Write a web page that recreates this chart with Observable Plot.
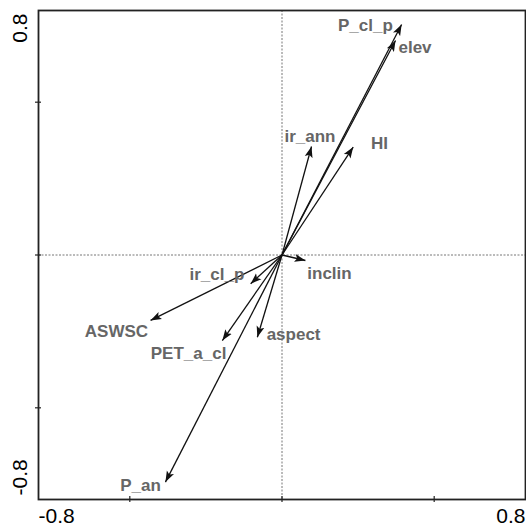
<!DOCTYPE html>
<html>
<head>
<meta charset="utf-8">
<script src="https://cdn.jsdelivr.net/npm/d3@7"></script>
<script src="https://cdn.jsdelivr.net/npm/@observablehq/plot@0.6"></script>
<style>
  html, body { margin: 0; padding: 0; background: #fff; }
  #chart svg { display: block; }
</style>
</head>
<body>
<div id="chart"></div>
<script>
// Variable names and biplot loadings (axis 1, axis 2)
const vars  = ["P_cl_p", "elev", "ir_ann", "HI", "inclin", "ir_cl_p", "ASWSC", "PET_a_cl", "aspect", "P_an"];
const axis1 = [0.393, 0.373, 0.097, 0.234, 0.077, -0.103, -0.432, -0.196, -0.081, -0.383];
const axis2 = [0.754, 0.702, 0.355, 0.353, -0.018, -0.094, -0.214, -0.280, -0.269, -0.743];
// Label anchor positions in data units
const labelX = [0.274, 0.437, 0.092, 0.320, 0.156, -0.214, -0.544, -0.307, 0.038, -0.465];
const labelY = [0.751, 0.679, 0.388, 0.365, -0.061, -0.064, -0.250, -0.322, -0.260, -0.754];
// Axis range, ticks and labels
const domain = [-0.8, 0.8];
const minorTicks = [-0.5, 0, 0.5];
const tickLabelsLow = [-0.8];
const tickLabelsHigh = [0.8];

const data = vars.map((v, i) => ({name: v, x: axis1[i], y: axis2[i], lx: labelX[i], ly: labelY[i]}));

function solidHead(color) {
  const m = d3.create("svg:marker")
    .attr("viewBox", "-11 -5 11 10")
    .attr("markerWidth", 11)
    .attr("markerHeight", 10)
    .attr("markerUnits", "userSpaceOnUse")
    .attr("refX", 0)
    .attr("refY", 0)
    .attr("orient", "auto");
  m.append("path")
    .attr("d", "M0,0L-11,-4L-8.5,0L-11,4Z")
    .attr("fill", color)
    .attr("stroke", "none");
  return m.node();
}

const fmt = d => String(d);

const chart = Plot.plot({
  width: 526,
  height: 526,
  marginLeft: 38,
  marginRight: 1,
  marginTop: 10,
  marginBottom: 27,
  x: {domain, axis: null},
  y: {domain, axis: null},
  style: {fontFamily: "Arial, 'Liberation Sans', sans-serif", background: "#fff"},
  marks: [
    Plot.ruleX([0], {stroke: "#777", strokeDasharray: "2,1.5", strokeWidth: 1}),
    Plot.ruleY([0], {stroke: "#777", strokeDasharray: "2,1.5", strokeWidth: 1}),
    Plot.link(data, {
      x1: () => 0, y1: () => 0, x2: "x", y2: "y",
      stroke: "#111", strokeWidth: 1.3,
      markerEnd: solidHead
    }),
    Plot.text(data, {
      x: "lx", y: "ly", text: "name",
      fill: "#666", fontWeight: "bold", fontSize: 17
    }),
    Plot.frame({stroke: "#222", strokeWidth: 1.8}),
    // small ticks crossing the bottom and left axes
    Plot.ruleX(minorTicks, {y1: () => domain[0], y2: () => domain[0], insetTop: -3, insetBottom: -3, stroke: "#222", strokeWidth: 1.2}),
    Plot.ruleY(minorTicks, {x1: () => domain[0], x2: () => domain[0], insetLeft: -3, insetRight: -3, stroke: "#222", strokeWidth: 1.2}),
    // bottom tick labels
    Plot.text(tickLabelsLow, {x: d => d, frameAnchor: "bottom", dy: 17, text: fmt,
      textAnchor: "start", lineAnchor: "middle", fontSize: 21, fill: "#000"}),
    Plot.text(tickLabelsHigh, {x: d => d, frameAnchor: "bottom", dy: 17, text: fmt,
      textAnchor: "end", lineAnchor: "middle", fontSize: 21, fill: "#000"}),
    // left tick labels (rotated)
    Plot.text(tickLabelsLow, {y: d => d, frameAnchor: "left", dx: -18, dy: -4, text: fmt, rotate: -90,
      textAnchor: "start", lineAnchor: "middle", fontSize: 21, fill: "#000"}),
    Plot.text(tickLabelsHigh, {y: d => d, frameAnchor: "left", dx: -18, dy: 3, text: fmt, rotate: -90,
      textAnchor: "end", lineAnchor: "middle", fontSize: 21, fill: "#000"})
  ]
});

document.getElementById("chart").appendChild(chart);
</script>
</body>
</html>
